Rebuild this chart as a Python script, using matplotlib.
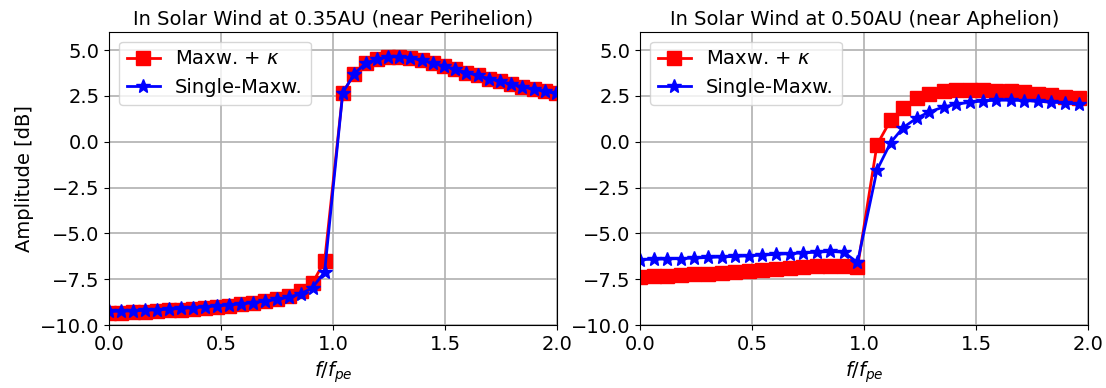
import numpy as np
import matplotlib
matplotlib.use('Agg')
import matplotlib.pyplot as plt

# ---- 0.35 AU (near perihelion) ----
x_peri = [0.0, 0.053, 0.107, 0.160, 0.214, 0.267, 0.321, 0.374, 0.428, 0.481,
          0.534, 0.588, 0.641, 0.695, 0.748, 0.801, 0.855, 0.908, 0.962,
          1.043, 1.095, 1.145, 1.195, 1.245, 1.295, 1.345, 1.395, 1.445, 1.495,
          1.545, 1.595, 1.645, 1.695, 1.745, 1.795, 1.845, 1.895, 1.945, 1.995]
kappa_peri = [-9.35, -9.33, -9.31, -9.28, -9.24, -9.20, -9.16, -9.11, -9.06, -9.00,
              -8.94, -8.87, -8.79, -8.70, -8.57, -8.40, -8.15, -7.70, -6.50,
              2.68, 3.72, 4.28, 4.52, 4.62, 4.65, 4.58, 4.45, 4.30, 4.13,
              3.95, 3.78, 3.62, 3.45, 3.30, 3.15, 3.00, 2.87, 2.75, 2.64]
maxw_peri = [-9.25, -9.24, -9.22, -9.19, -9.16, -9.13, -9.09, -9.05, -9.00, -8.95,
             -8.90, -8.84, -8.77, -8.69, -8.60, -8.48, -8.30, -7.95, -7.10,
             2.68, 3.72, 4.28, 4.52, 4.62, 4.65, 4.58, 4.45, 4.30, 4.13,
             3.95, 3.78, 3.62, 3.45, 3.30, 3.15, 3.00, 2.87, 2.75, 2.64]

# ---- 0.50 AU (near aphelion) ----
x_aph = [0.0, 0.061, 0.121, 0.182, 0.242, 0.303, 0.364, 0.424, 0.485, 0.545,
         0.606, 0.667, 0.727, 0.788, 0.848, 0.909, 0.970,
         1.057, 1.118, 1.174, 1.234, 1.290, 1.354, 1.410, 1.474, 1.530, 1.590,
         1.655, 1.715, 1.775, 1.835, 1.895, 1.957]
kappa_aph = [-7.35, -7.33, -7.30, -7.27, -7.23, -7.19, -7.15, -7.10, -7.05, -7.00,
             -6.95, -6.90, -6.85, -6.80, -6.77, -6.75, -6.85,
             -0.16, 1.18, 1.86, 2.37, 2.63, 2.77, 2.81, 2.83, 2.83, 2.79,
             2.75, 2.69, 2.63, 2.55, 2.46, 2.37]
maxw_aph = [-6.42, -6.41, -6.39, -6.37, -6.34, -6.31, -6.28, -6.25, -6.22, -6.18,
            -6.14, -6.10, -6.06, -6.02, -5.98, -6.02, -6.58,
            -1.54, -0.04, 0.78, 1.29, 1.63, 1.90, 2.05, 2.16, 2.23, 2.27,
            2.27, 2.25, 2.21, 2.17, 2.12, 2.06]

titles = ['In Solar Wind at 0.35AU (near Perihelion)',
          'In Solar Wind at 0.50AU (near Aphelion)']

fig, axes = plt.subplots(1, 2, figsize=(11.06, 3.88), dpi=100)
fig.subplots_adjust(left=0.0986, right=0.984, bottom=0.162, top=0.918, wspace=0.185)

data = [(x_peri, kappa_peri, maxw_peri), (x_aph, kappa_aph, maxw_aph)]
for ax, (x, yk, ym), title in zip(axes, data, titles):
    ax.plot(x, yk, 'r-s', markersize=9.5, linewidth=2, label=r'Maxw. + $\kappa$')
    ax.plot(x, ym, 'b-*', markersize=10, linewidth=2, label='Single-Maxw.')
    ax.set_xlim(0, 2)
    ax.set_ylim(-10, 6)
    ax.set_xticks([0.0, 0.5, 1.0, 1.5, 2.0])
    ax.set_yticks([-10, -7.5, -5, -2.5, 0, 2.5, 5])
    ax.tick_params(labelsize=14)
    ax.grid(True, linewidth=1.2)
    ax.set_xlabel(r'$f/f_{pe}$', fontsize=14)
    ax.set_title(title, fontsize=14, pad=5)
    ax.legend(loc='upper left', fontsize=14, handlelength=1.7)

axes[0].set_ylabel('Amplitude [dB]', fontsize=14)

plt.savefig('out.png', dpi=100)
